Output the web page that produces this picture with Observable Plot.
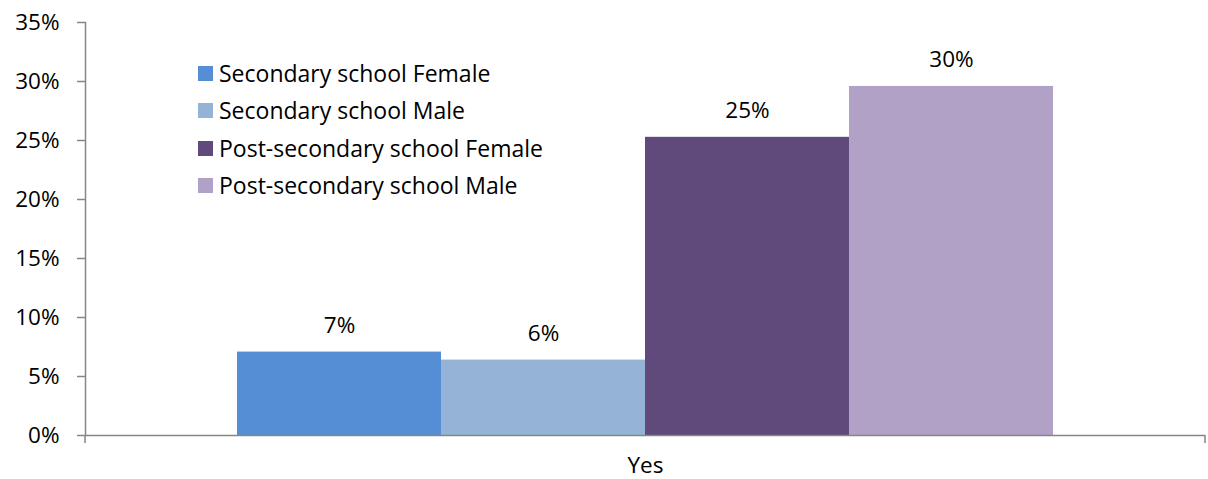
<!DOCTYPE html>
<html><head><meta charset="utf-8">
<script src="https://cdn.jsdelivr.net/npm/d3@7"></script>
<script src="https://cdn.jsdelivr.net/npm/@observablehq/plot@0.6"></script>
<style>
body{margin:0;background:#fff;font-family:"Open Sans",sans-serif;}
#wrap{position:relative;width:1208px;height:479px;}
#legend{position:absolute;left:198px;top:55px;font-size:23px;color:#000;line-height:1;}
.item{display:flex;align-items:center;height:37.3px;white-space:nowrap;}
.sw{width:15px;height:15px;margin-right:6px;flex:none;}
</style></head><body><div id="wrap"><div id="legend"></div></div>
<script>
const categories = ["Yes"];
const series = ["Secondary school Female","Secondary school Male","Post-secondary school Female","Post-secondary school Male"];
const values = [0.0707, 0.0639, 0.2527, 0.2958];
const colors = ["#558ED5","#95B3D7","#604A7B","#B2A1C7"];
const yTicks = [0, 0.05, 0.10, 0.15, 0.20, 0.25, 0.30, 0.35];

const data = series.map((s, i) => ({category: categories[0], series: s, value: values[i]}));
const pct = d3.format(".0%");
const axisColor = "#868686";

const chart = Plot.plot({
  width: 1208, height: 479,
  marginLeft: 85, marginRight: 3, marginTop: 22, marginBottom: 44,
  style: {fontFamily: "Open Sans", fontSize: "22.5px", color: "#000", background: "#fff"},
  fx: {domain: categories, padding: 0, label: null, axis: "bottom", tickSize: 0, tickPadding: 22},
  x: {domain: series, paddingInner: 0, paddingOuter: 0.745, axis: null},
  y: {domain: [0, 0.35], label: null},
  color: {domain: series, range: colors},
  marks: [
    Plot.barY(data, {fx: "category", x: "series", y: "value", fill: "series"}),
    Plot.text(data, {fx: "category", x: "series", y: "value", text: d => pct(d.value), lineAnchor: "bottom", dy: -19, fill: "#000"}),
    Plot.axisY({ticks: yTicks, tickFormat: pct, tickSize: 8, tickPadding: 18, stroke: axisColor, strokeWidth: 1.5, fill: "#000", label: null}),
    Plot.frame({anchor: "left", stroke: axisColor, strokeWidth: 1.5}),
    Plot.ruleY([0], {stroke: axisColor, strokeWidth: 1.5})
  ]
});

// edge ticks on the category axis, positioned from the library's scales
const fx = chart.scale("fx"), y = chart.scale("y");
const x0 = fx.apply(categories[0]), x1 = x0 + fx.bandwidth, y0 = y.apply(0);
const g = d3.select(chart).append("g").attr("stroke", axisColor).attr("stroke-width", 1.5);
[x0, x1].forEach(xx => g.append("line").attr("x1", xx).attr("x2", xx).attr("y1", y0).attr("y2", y0 + 8));

document.getElementById("wrap").prepend(chart);

const legend = document.getElementById("legend");
series.forEach((s, i) => {
  const it = document.createElement("div"); it.className = "item";
  const sw = document.createElement("div"); sw.className = "sw"; sw.style.background = colors[i];
  const t = document.createElement("span"); t.textContent = s;
  it.append(sw, t); legend.append(it);
});
</script></body></html>
